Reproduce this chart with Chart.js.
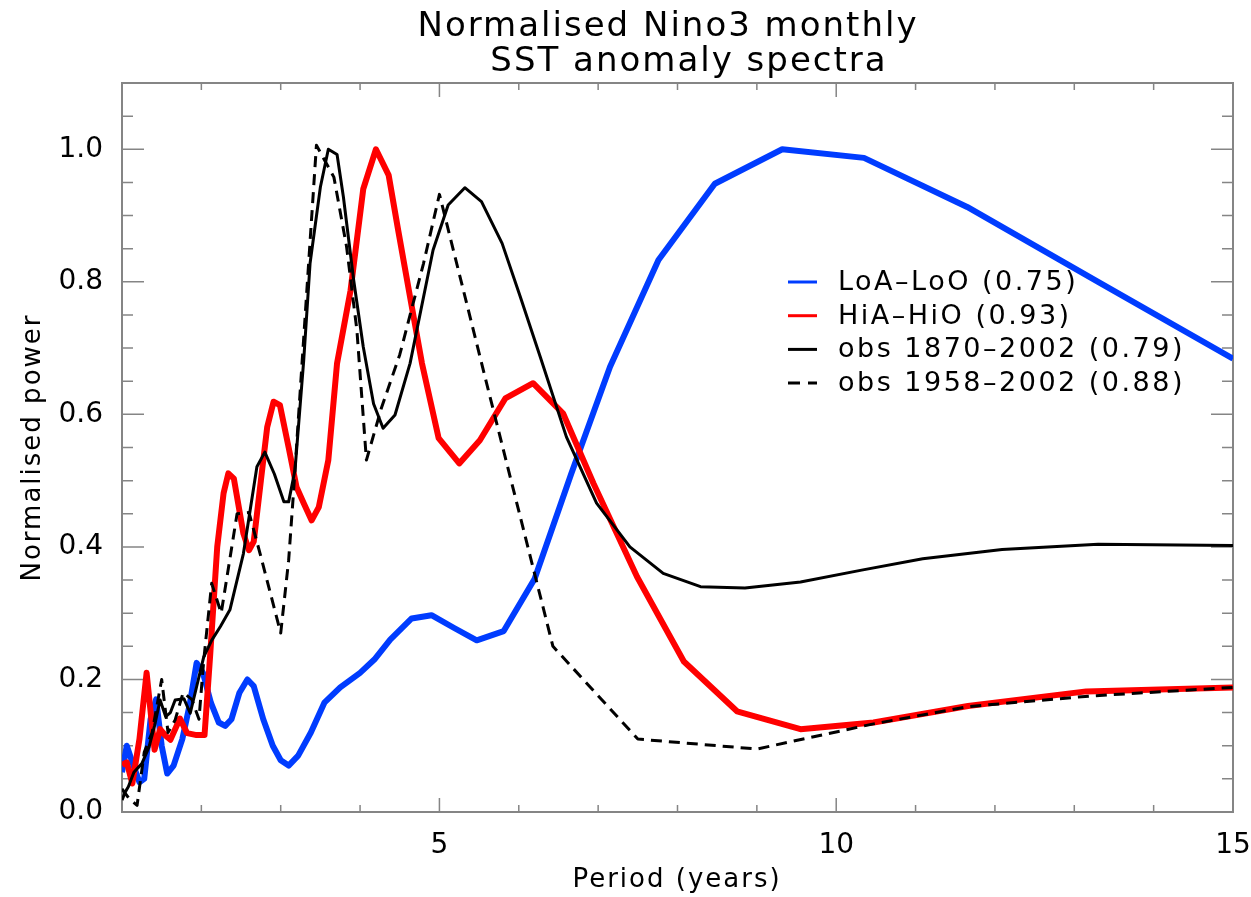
<!DOCTYPE html>
<html>
<head>
<meta charset="utf-8">
<title>Normalised Nino3 monthly SST anomaly spectra</title>
<script src="https://cdn.jsdelivr.net/npm/chart.js@4.4.0/dist/chart.umd.min.js"></script>
<style>
  html, body { margin: 0; padding: 0; background: #fff; }
  #wrap { width: 1251px; height: 897px; }
</style>
</head>
<body>
<div id="wrap"><canvas id="spectra" width="1251" height="897"></canvas></div>
<script>
// period (years) / normalised power for each spectrum
var loaPeriod = [1.00, 1.06, 1.13, 1.22, 1.28, 1.36, 1.43, 1.50, 1.57, 1.65, 1.76, 1.85, 1.94, 2.02, 2.12, 2.22, 2.30, 2.38, 2.48, 2.58, 2.66, 2.78, 2.90, 3.00, 3.10, 3.22, 3.38, 3.55, 3.75, 4.00, 4.18, 4.38, 4.65, 4.90, 5.18, 5.47, 5.81, 6.20, 6.66, 7.15, 7.76, 8.47, 9.32, 10.35, 11.65, 13.30, 15.00];
var loaPower  = [0.060, 0.100, 0.075, 0.045, 0.050, 0.140, 0.170, 0.100, 0.058, 0.070, 0.110, 0.160, 0.225, 0.210, 0.165, 0.135, 0.130, 0.140, 0.180, 0.200, 0.190, 0.140, 0.100, 0.078, 0.070, 0.085, 0.120, 0.165, 0.188, 0.210, 0.230, 0.260, 0.292, 0.297, 0.278, 0.259, 0.273, 0.352, 0.510, 0.672, 0.833, 0.948, 1.000, 0.987, 0.913, 0.800, 0.684];

var hiaPeriod = [1.00, 1.06, 1.13, 1.22, 1.31, 1.41, 1.48, 1.55, 1.61, 1.73, 1.82, 1.94, 2.04, 2.11, 2.20, 2.28, 2.34, 2.41, 2.53, 2.60, 2.66, 2.75, 2.83, 2.91, 2.99, 3.10, 3.20, 3.29, 3.39, 3.48, 3.60, 3.71, 3.88, 4.04, 4.20, 4.36, 4.48, 4.63, 4.78, 4.99, 5.25, 5.51, 5.83, 6.18, 6.56, 6.94, 7.49, 8.08, 8.75, 9.55, 10.47, 11.66, 13.15, 15.00];
var hiaPower  = [0.071, 0.075, 0.043, 0.110, 0.210, 0.094, 0.125, 0.115, 0.109, 0.141, 0.119, 0.116, 0.116, 0.235, 0.400, 0.481, 0.511, 0.503, 0.420, 0.395, 0.408, 0.500, 0.581, 0.619, 0.614, 0.550, 0.490, 0.466, 0.440, 0.460, 0.531, 0.677, 0.787, 0.940, 1.000, 0.961, 0.878, 0.777, 0.677, 0.564, 0.526, 0.561, 0.624, 0.647, 0.601, 0.496, 0.355, 0.227, 0.152, 0.125, 0.135, 0.160, 0.182, 0.188];

var obsLongPeriod = [1.00, 1.04, 1.08, 1.15, 1.25, 1.34, 1.41, 1.48, 1.55, 1.61, 1.67, 1.78, 1.86, 1.94, 2.03, 2.13, 2.24, 2.36, 2.53, 2.70, 2.80, 2.92, 3.04, 3.10, 3.18, 3.29, 3.37, 3.50, 3.60, 3.71, 3.79, 3.92, 4.04, 4.17, 4.29, 4.44, 4.63, 4.92, 5.11, 5.32, 5.53, 5.79, 6.02, 6.27, 6.60, 6.98, 7.40, 7.82, 8.29, 8.85, 9.55, 10.32, 11.09, 12.09, 13.30, 15.00];
var obsLongPower  = [0.018, 0.030, 0.038, 0.060, 0.073, 0.098, 0.130, 0.169, 0.144, 0.150, 0.169, 0.171, 0.149, 0.189, 0.234, 0.259, 0.280, 0.305, 0.390, 0.521, 0.543, 0.510, 0.468, 0.468, 0.516, 0.682, 0.828, 0.943, 1.000, 0.992, 0.928, 0.802, 0.702, 0.616, 0.579, 0.599, 0.677, 0.848, 0.916, 0.942, 0.921, 0.858, 0.777, 0.687, 0.566, 0.466, 0.400, 0.360, 0.340, 0.338, 0.347, 0.365, 0.382, 0.396, 0.404, 0.402];

var obsShortPeriod = [1.00, 1.09, 1.19, 1.28, 1.38, 1.50, 1.58, 1.67, 1.77, 1.88, 1.97, 2.03, 2.13, 2.25, 2.45, 2.60, 2.74, 2.87, 3.00, 3.10, 3.16, 3.45, 3.67, 3.83, 3.96, 4.08, 4.27, 4.50, 4.80, 5.00, 5.63, 6.43, 7.50, 9.00, 10.47, 11.66, 13.20, 15.00];
var obsShortPower  = [0.035, 0.020, 0.010, 0.090, 0.120, 0.200, 0.120, 0.139, 0.180, 0.170, 0.140, 0.229, 0.345, 0.300, 0.450, 0.452, 0.390, 0.330, 0.270, 0.380, 0.480, 1.006, 0.958, 0.853, 0.727, 0.531, 0.610, 0.690, 0.828, 0.932, 0.630, 0.250, 0.110, 0.095, 0.133, 0.159, 0.175, 0.188];

var seriesLabels = ['LoA\u2013LoO (0.75)', 'HiA\u2013HiO (0.93)', 'obs 1870\u20132002 (0.79)', 'obs 1958\u20132002 (0.88)'];

var xTickValues = [5, 10, 15];
var yTickValues = [0.0, 0.2, 0.4, 0.6, 0.8, 1.0];

var axisColor = '#858585';
var fontFace = "'DejaVu Sans', sans-serif";

function toPoints(xs, ys) {
  var pts = [];
  for (var i = 0; i < xs.length; i++) pts.push({ x: xs[i], y: ys[i] });
  return pts;
}

// box round the plot with inward ticks on all four sides
var frame = {
  id: 'frame',
  beforeDatasetsDraw: function (chart) {
    var ctx = chart.ctx, a = chart.chartArea;
    var xs = chart.scales.x, ys = chart.scales.y;
    ctx.save();
    ctx.strokeStyle = axisColor;
    ctx.lineWidth = 2;
    ctx.strokeRect(a.left, a.top, a.right - a.left, a.bottom - a.top);
    ctx.lineWidth = 1.5;
    ctx.beginPath();
    for (var v = 1; v <= 15; v++) {
      var px = xs.getPixelForValue(v);
      var len = xTickValues.indexOf(v) >= 0 ? 14 : 7;
      ctx.moveTo(px, a.bottom); ctx.lineTo(px, a.bottom - len);
      ctx.moveTo(px, a.top); ctx.lineTo(px, a.top + len);
    }
    for (var k = 1; k <= 22; k++) {
      var val = k * 0.05;
      var py = ys.getPixelForValue(val);
      var ylen = (k % 4 === 0) ? 22 : 11;
      ctx.moveTo(a.left, py); ctx.lineTo(a.left + ylen, py);
      ctx.moveTo(a.right, py); ctx.lineTo(a.right - ylen, py);
    }
    ctx.stroke();
    ctx.restore();
  }
};

// titles and the legend block inside the plot
var labels = {
  id: 'labels',
  afterDatasetsDraw: function (chart) {
    var ctx = chart.ctx, a = chart.chartArea;
    ctx.save();
    ctx.fillStyle = '#000';
    ctx.letterSpacing = '2px';
    ctx.textAlign = 'center';
    ctx.textBaseline = 'middle';

    ctx.font = '34px ' + fontFace;
    ctx.fillText('Normalised Nino3 monthly', 668, 27);
    ctx.fillText('SST anomaly spectra', 689, 62);

    ctx.font = '26px ' + fontFace;
    ctx.fillText('Period (years)', 677, 880);
    ctx.save();
    ctx.translate(33, (a.top + a.bottom) / 2);
    ctx.rotate(-Math.PI / 2);
    ctx.fillText('Normalised power', 0, 0);
    ctx.restore();

    // legend
    ctx.textAlign = 'left';
    ctx.letterSpacing = '2.5px';
    ctx.font = '27px ' + fontFace;
    chart.data.datasets.forEach(function (ds, i) {
      var y = 282 + i * 33.7;
      ctx.save();
      ctx.strokeStyle = ds.borderColor;
      ctx.lineWidth = 3;
      ctx.setLineDash(ds.borderDash && ds.borderDash.length ? [12, 8] : []);
      ctx.beginPath();
      ctx.moveTo(788, y);
      ctx.lineTo(817, y);
      ctx.stroke();
      ctx.restore();
      ctx.fillText(ds.label, 838, y + 1);
    });
    ctx.restore();
  }
};

new Chart(document.getElementById('spectra'), {
  type: 'line',
  data: {
    datasets: [
      {
        label: seriesLabels[0],
        data: toPoints(loaPeriod, loaPower),
        borderColor: 'rgb(0,60,255)',
        borderWidth: 6,
        order: 4
      }, {
        label: seriesLabels[1],
        data: toPoints(hiaPeriod, hiaPower),
        borderColor: 'rgb(255,0,0)',
        borderWidth: 6,
        order: 3
      }, {
        label: seriesLabels[2],
        data: toPoints(obsLongPeriod, obsLongPower),
        borderColor: '#000',
        borderWidth: 3,
        order: 2
      }, {
        label: seriesLabels[3],
        data: toPoints(obsShortPeriod, obsShortPower),
        borderColor: '#000',
        borderWidth: 3,
        borderDash: [11, 7],
        order: 1
      }
    ]
  },
  options: {
    responsive: false,
    animation: false,
    events: [],
    elements: {
      point: { radius: 0 },
      line: { tension: 0, borderJoinStyle: 'round', borderCapStyle: 'butt' }
    },
    layout: { padding: { top: 83, right: 18, left: 0, bottom: 0 } },
    plugins: {
      legend: { display: false },
      tooltip: { enabled: false },
      title: { display: false }
    },
    scales: {
      x: {
        type: 'linear',
        min: 1,
        max: 15,
        grid: { display: false },
        border: { display: false },
        afterBuildTicks: function (s) {
          s.ticks = xTickValues.map(function (v) { return { value: v }; });
        },
        afterFit: function (s) {
          s.height = 85;
          // let the "15" label hang past the plot edge
          s.paddingLeft = 0;
          s.paddingRight = 0;
        },
        ticks: {
          color: '#000',
          padding: 9,
          maxRotation: 0,
          font: { family: fontFace, size: 28 },
          callback: function (v) { return String(v); }
        }
      },
      y: {
        type: 'linear',
        min: 0,
        max: 1.1,
        grid: { display: false },
        border: { display: false },
        afterBuildTicks: function (s) {
          s.ticks = yTickValues.map(function (v) { return { value: v }; });
        },
        afterFit: function (s) { s.width = 122; },
        ticks: {
          color: '#000',
          padding: 11,
          font: { family: fontFace, size: 28 },
          callback: function (v) { return Number(v).toFixed(1); }
        }
      }
    }
  },
  plugins: [frame, labels]
});
</script>
</body>
</html>
